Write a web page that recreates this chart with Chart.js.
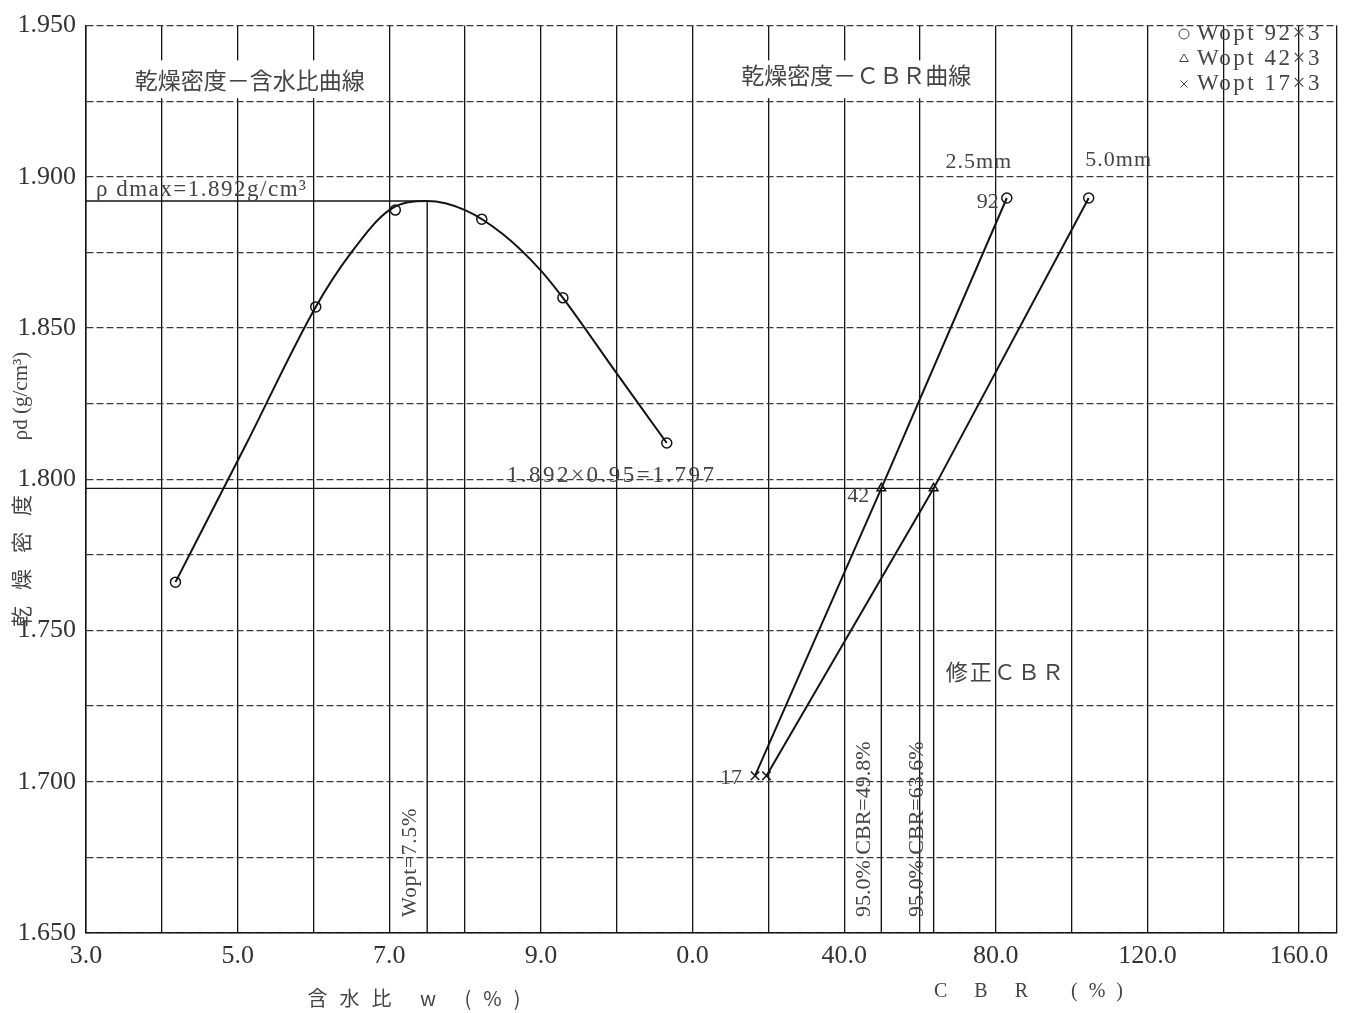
<!DOCTYPE html>
<html>
<head>
<meta charset="utf-8">
<script src="https://cdn.jsdelivr.net/npm/chart.js@4.4.0/dist/chart.umd.min.js"></script>
<style>
html,body{margin:0;padding:0;background:#fff;}
</style>
</head>
<body>
<canvas id="compaction" width="1356" height="1013"></canvas>
<script>
//Data - 乾燥密度－含水比 (test points)
const waterContent = [4.18, 6.03, 7.08, 8.22, 9.29, 10.66];
const dryDensity = [1.766, 1.857, 1.889, 1.886, 1.860, 1.812];

//curve as drawn on the sheet
const curveW = [4.18, 5.10, 6.03, 6.50, 7.00, 7.50, 8.00, 8.50, 9.00, 9.29, 10.00, 10.66];
const curveRho = [1.766, 1.811, 1.857, 1.875, 1.889, 1.892, 1.889, 1.881, 1.869, 1.860, 1.835, 1.812];

//Data - 乾燥密度－CBR
const blows = [17, 42, 92];
const cbrDensity = [1.702, 1.797, 1.893];
const cbr25 = [16.5, 49.8, 82.9];
const cbr50 = [19.5, 63.6, 104.5];

//results
const rhoDmax = 1.892;
const wOpt = 7.5;
const rho95 = 1.797;
const cbr95 = [49.8, 63.6];

//axis ticks
const wTicks = ['3.0', '5.0', '7.0', '9.0'];
const cbrTicks = ['0.0', '40.0', '80.0', '120.0', '160.0'];
const rhoTicks = ['1.650', '1.700', '1.750', '1.800', '1.850', '1.900', '1.950'];

//the CBR half of the sheet starts where w = 11.0, one grid = 20 %
const cbrOrigin = 11;
const cbrStep = 20;
const toX = (cbr) => cbrOrigin + cbr / cbrStep;

const serif = '"Liberation Serif", "Noto Sans CJK JP", serif';
const jp = '"Noto Sans CJK JP", sans-serif';
const ink = '#141414';
const grey = '#444';

const pts = (xs, ys) => xs.map((v, i) => ({x: v, y: ys[i]}));
const cbrPts = (idx) => [{x: toX(cbr25[idx]), y: cbrDensity[idx]}, {x: toX(cbr50[idx]), y: cbrDensity[idx]}];

const markerSet = (label, data, style, r) => ({
    label: label,
    data: data,
    showLine: false,
    pointStyle: style,
    pointRadius: r,
    pointBorderWidth: 1.5,
    pointBorderColor: ink,
    pointBackgroundColor: 'rgba(0,0,0,0)',
    order: 0
});

const lineSet = (data, width) => ({
    data: data,
    showLine: true,
    borderColor: ink,
    borderWidth: width,
    pointRadius: 0,
    fill: false,
    order: 1
});

const curve = lineSet(pts(curveW, curveRho), 2);
curve.cubicInterpolationMode = 'monotone';

const datasets = [
    curve,
    markerSet('w', pts(waterContent, dryDensity), 'circle', 5),
    lineSet(cbr25.map((c, i) => ({x: toX(c), y: cbrDensity[i]})), 2),
    lineSet(cbr50.map((c, i) => ({x: toX(c), y: cbrDensity[i]})), 2),
    markerSet('92', cbrPts(2), 'circle', 5),
    markerSet('42', cbrPts(1), 'triangle', 5),
    markerSet('17', cbrPts(0), 'crossRot', 6),
    //ρdmax and Wopt
    lineSet([{x: 3, y: rhoDmax}, {x: wOpt, y: rhoDmax}, {x: wOpt, y: 1.65}], 1.4),
    //95 % density and CBR
    lineSet([{x: 3, y: rho95}, {x: toX(cbr95[1]), y: rho95}], 1.4),
    lineSet([{x: toX(cbr95[0]), y: rho95}, {x: toX(cbr95[0]), y: 1.65}], 1.4),
    lineSet([{x: toX(cbr95[1]), y: rho95}, {x: toX(cbr95[1]), y: 1.65}], 1.4)
];

//tick values (grid every 1.0 % / 20 %, and every 0.025 g/cm3)
let xTickValues = [];
for (let v = 3; v <= 19; v++) xTickValues.push(v);
xTickValues.push(19.5);
let yTickValues = [];
for (let i = 0; i <= 12; i++) yTickValues.push(Math.round((1.65 + i * 0.025) * 1000) / 1000);

const xLabel = (v) => {
    if (v < cbrOrigin) return (v % 2 === 1) ? wTicks[(v - 3) / 2] : '';
    let k = (v - cbrOrigin) / 2;
    return Number.isInteger(k) ? cbrTicks[k] : '';
};
const yLabel = (v) => {
    let k = Math.round((v - 1.65) * 1000) / 50;
    return Number.isInteger(k) ? rhoTicks[k] : '';
};

function text(ctx, str, x, y, o) {
    ctx.save();
    ctx.font = o.font;
    ctx.fillStyle = o.color || grey;
    ctx.textAlign = o.align || 'left';
    ctx.textBaseline = 'middle';
    if (o.spacing) ctx.letterSpacing = o.spacing;
    if (o.rot) {
        ctx.translate(x, y);
        ctx.rotate(-Math.PI / 2);
        ctx.fillText(str, 0, 0);
    } else {
        ctx.fillText(str, x, y);
    }
    ctx.restore();
}

const notes = {
    id: 'notes',
    beforeDatasetsDraw(chart) {
        const ctx = chart.ctx;
        const xs = chart.scales.x, ys = chart.scales.y;
        const px = (v) => xs.getPixelForValue(v);
        const py = (v) => ys.getPixelForValue(v);

        //title boxes cut the grid
        ctx.save();
        ctx.fillStyle = '#fff';
        ctx.fillRect(px(3.3), py(1.9385), px(6.85) - px(3.3), py(1.926) - py(1.9385));
        ctx.fillRect(px(11.3), py(1.9385), px(14.75) - px(11.3), py(1.926) - py(1.9385));
        ctx.restore();

        text(ctx, '乾燥密度－含水比曲線', px(5.16), py(1.9318), {font: '23px ' + jp, align: 'center'});
        text(ctx, '乾燥密度－ＣＢＲ曲線', px(13.16), py(1.9335), {font: '23px ' + jp, align: 'center'});
    },
    afterDatasetsDraw(chart) {
        const ctx = chart.ctx;
        const xs = chart.scales.x, ys = chart.scales.y;
        const px = (v) => xs.getPixelForValue(v);
        const py = (v) => ys.getPixelForValue(v);
        const f22 = '22px ' + serif;
        const base = py(1.65);

        text(ctx, 'ρ dmax=1.892g/cm³', px(3) + 10, py(rhoDmax) - 11, {font: '23px ' + serif, spacing: '1.5px'});
        text(ctx, 'Wopt=7.5%', px(wOpt) - 17, base - 16, {font: '21px ' + serif, rot: true, spacing: '1px'});
        text(ctx, '1.892×0.95=1.797', px(8.55), py(rho95) - 12, {font: '23px ' + serif, spacing: '2.5px'});
        text(ctx, '95.0% CBR=' + cbr95[0] + '%', px(toX(cbr95[0])) - 17, base - 16, {font: f22, rot: true});
        text(ctx, '95.0% CBR=' + cbr95[1] + '%', px(toX(cbr95[1])) - 16, base - 16, {font: f22, rot: true});
        text(ctx, '修正ＣＢＲ', px(14.34), py(1.7365), {font: '22px ' + jp, spacing: '2px'});

        //penetration labels and blow counts
        text(ctx, '2.5mm', px(toX(cbr25[2])) - 28, py(cbrDensity[2]) - 36, {font: f22, align: 'center', spacing: '1px'});
        text(ctx, '5.0mm', px(toX(cbr50[2])) + 30, py(cbrDensity[2]) - 38, {font: f22, align: 'center', spacing: '1px'});
        text(ctx, String(blows[2]), px(toX(cbr25[2])) - 8, py(cbrDensity[2]) + 4, {font: f22, align: 'right'});
        text(ctx, String(blows[1]), px(toX(cbr25[1])) - 12, py(cbrDensity[1]) + 8, {font: f22, align: 'right'});
        text(ctx, String(blows[0]), px(toX(cbr25[0])) - 13, py(cbrDensity[0]) + 3, {font: f22, align: 'right'});

        //legend
        const rows = [['circle', blows[2]], ['triangle', blows[1]], ['crossRot', blows[0]]];
        rows.forEach((r, i) => {
            const y = 34 + i * 25;
            ctx.save();
            ctx.strokeStyle = grey;
            ctx.fillStyle = 'rgba(0,0,0,0)';
            Chart.helpers.drawPoint(ctx, {pointStyle: r[0], radius: 5, borderWidth: 1.3, rotation: 0}, 1184, y);
            ctx.restore();
            text(ctx, 'Wopt ' + r[1] + '×3', 1197, y, {font: '23px ' + serif, spacing: '2.5px'});
        });

        //axis titles
        text(ctx, '乾燥密度', 21, 553, {font: '21px ' + jp, rot: true, align: 'center', spacing: '16px'});
        text(ctx, 'ρd (g/cm³)', 21, 396, {font: '21px ' + serif, rot: true, align: 'center'});
        text(ctx, '含水比 w (%)', 420, 998, {font: '20px ' + jp, align: 'center', spacing: '12px'});
        text(ctx, 'C B R  (%)', 1034, 992, {font: '20px ' + serif, align: 'center', spacing: '11px'});
    }
};

new Chart(document.querySelector('#compaction'), {
    type: 'scatter',
    data: {datasets: datasets},
    options: {
        responsive: false,
        animation: false,
        layout: {padding: {top: 20, right: 19, left: 0, bottom: 0}},
        plugins: {
            legend: {display: false},
            tooltip: {enabled: false}
        },
        scales: {
            x: {
                type: 'linear',
                min: 3,
                max: 19.5,
                afterBuildTicks: (scale) => { scale.ticks = xTickValues.map(v => ({value: v})); },
                afterFit: (scale) => { scale.height = 80; },
                ticks: {
                    autoSkip: false,
                    maxRotation: 0,
                    padding: 8,
                    color: '#333',
                    font: {family: serif, size: 26},
                    callback: xLabel
                },
                grid: {color: ink, lineWidth: 1.3, drawTicks: false},
                border: {display: true, color: ink, width: 1.5}
            },
            y: {
                type: 'linear',
                min: 1.65,
                max: 1.95,
                afterBuildTicks: (scale) => { scale.ticks = yTickValues.map(v => ({value: v})); },
                afterFit: (scale) => { scale.width = 86; },
                ticks: {
                    autoSkip: false,
                    padding: 10,
                    color: '#333',
                    font: {family: serif, size: 26},
                    callback: yLabel
                },
                grid: {color: '#3c3c3c', lineWidth: 1.3, drawTicks: false},
                border: {display: true, color: ink, width: 1.5, dash: [7, 3]}
            }
        }
    },
    plugins: [notes]
});
</script>
</body>
</html>
